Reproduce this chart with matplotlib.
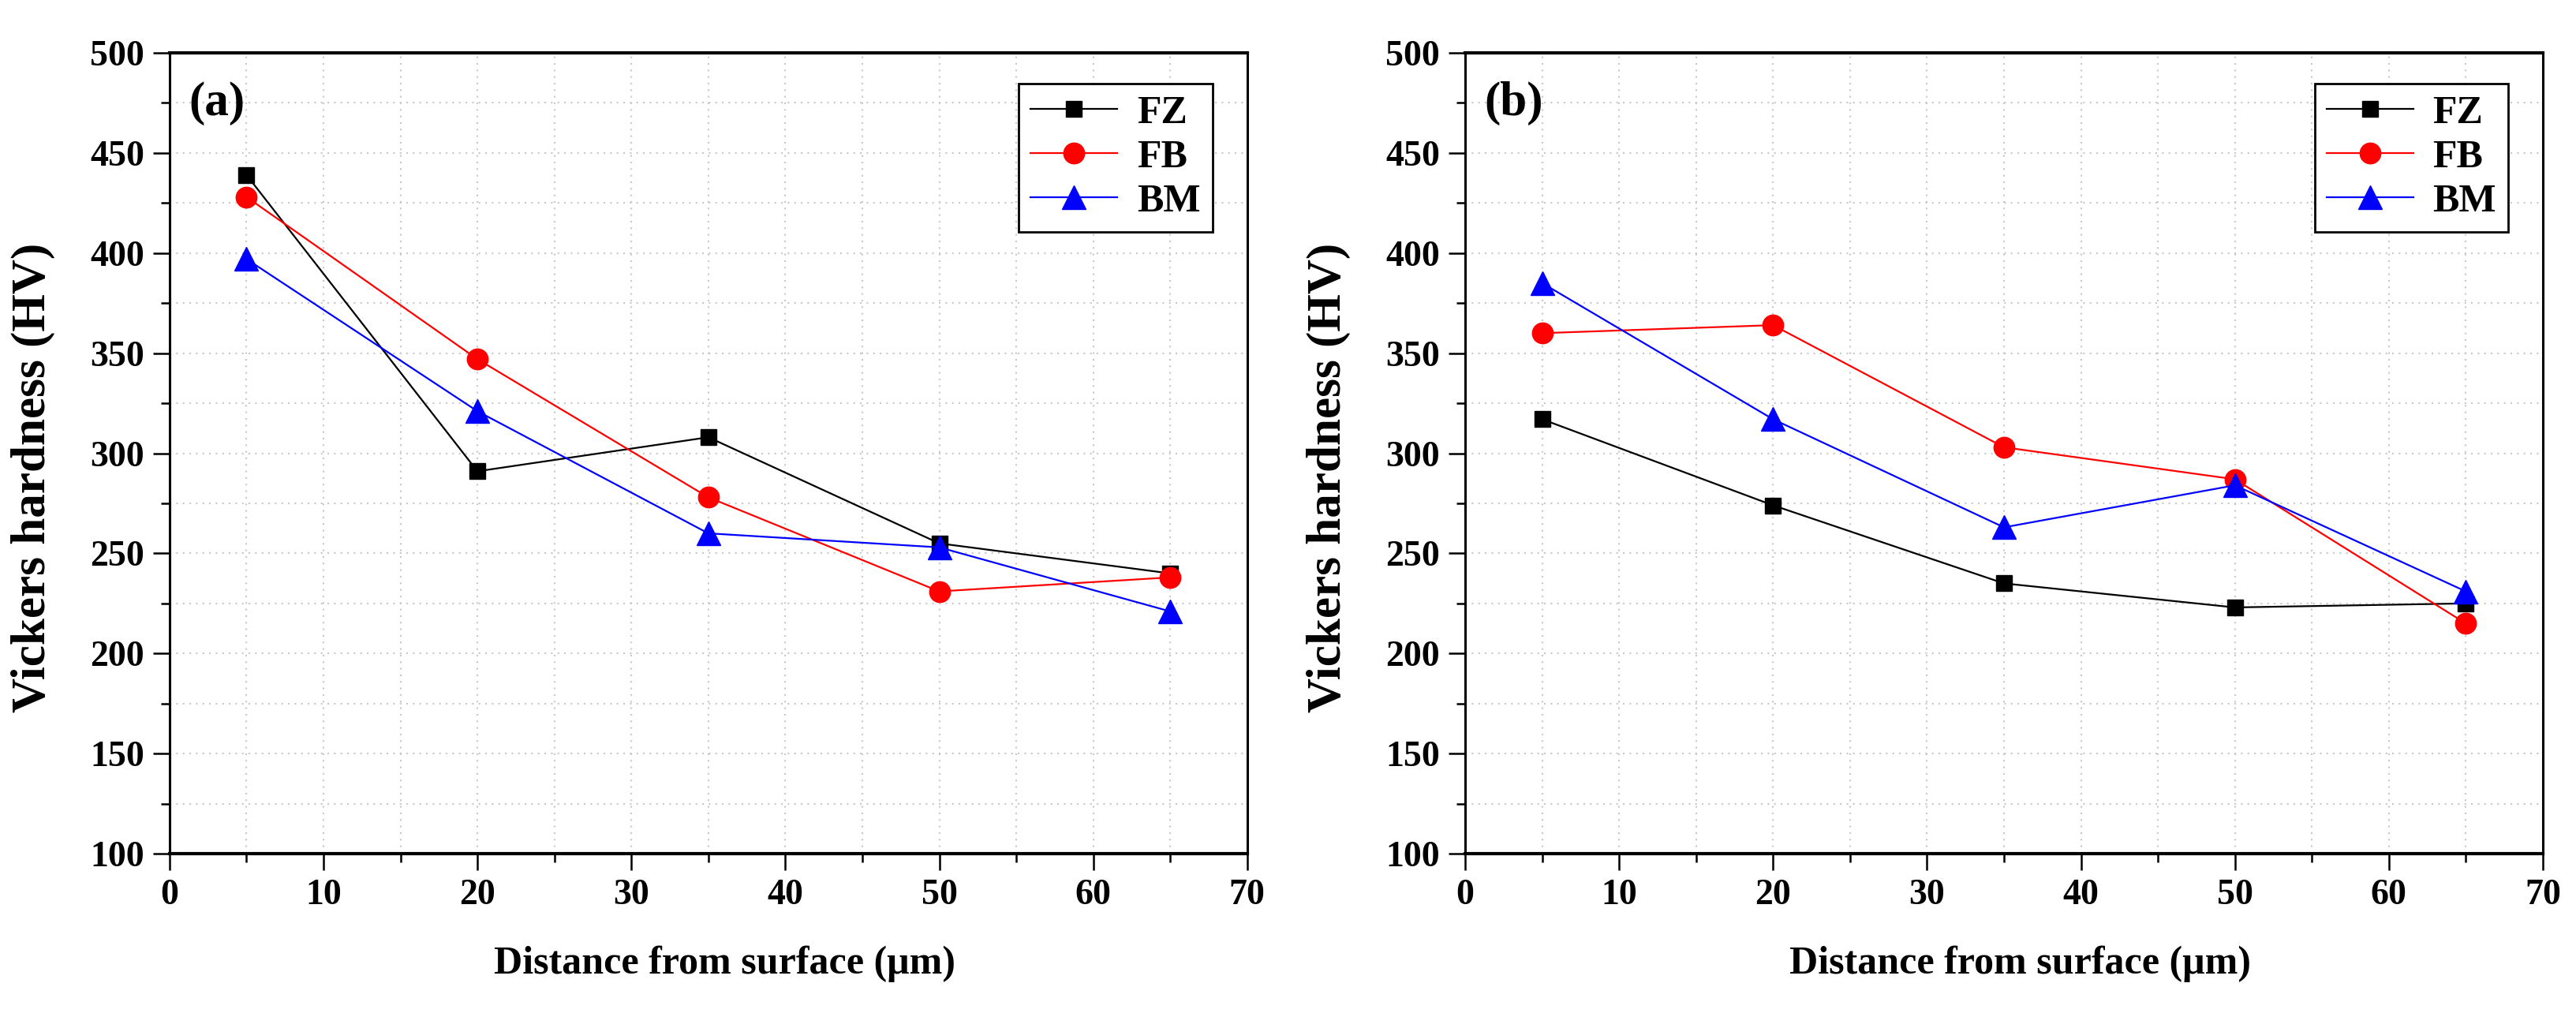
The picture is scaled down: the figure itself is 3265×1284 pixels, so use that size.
import matplotlib
matplotlib.use("Agg")
import matplotlib.pyplot as plt
from matplotlib.ticker import MultipleLocator

plt.rcParams['font.family'] = ['Liberation Serif', 'DejaVu Serif']
plt.rcParams['font.weight'] = 'bold'

# distance from surface (um)
distance = [5, 20, 35, 50, 65]

# panel (a)
fz_a = [439, 291, 308, 255, 240]
fb_a = [428, 347, 278, 231, 238]
bm_a = [397, 321, 260, 253, 221]

# panel (b)
fz_b = [317, 274, 235, 223, 225]
fb_b = [360, 364, 303, 287, 215]
bm_b = [385, 317, 263, 284, 231]

series_names = ["FZ", "FB", "BM"]
panel_tags = ["(a)", "(b)"]


def draw_panel(ax, fz, fb, bm, tag):
    ax.plot(distance, fz, color="black", lw=1.6, marker="s", ms=15, label=series_names[0])
    ax.plot(distance, fb, color="red", lw=1.6, marker="o", ms=19, label=series_names[1])
    ax.plot(distance, bm, color="blue", lw=1.6, marker="^", ms=22, label=series_names[2])

    ax.set_xlim(0, 70)
    ax.set_ylim(100, 500)
    ax.xaxis.set_major_locator(MultipleLocator(10))
    ax.xaxis.set_minor_locator(MultipleLocator(5))
    ax.yaxis.set_major_locator(MultipleLocator(50))
    ax.yaxis.set_minor_locator(MultipleLocator(25))

    ax.grid(True, which="both", color="#c8c8c8", ls=(0, (1, 3)), lw=1.5)
    ax.set_axisbelow(True)

    for side in ["top", "bottom"]:
        ax.spines[side].set_linewidth(3)
    for side in ["left", "right"]:
        ax.spines[side].set_linewidth(2.2)

    ax.tick_params(which="major", direction="out", length=15, width=1.8, labelsize=33, pad=8)
    ax.tick_params(which="minor", direction="out", length=8, width=1.8)
    for lab in ax.get_xticklabels() + ax.get_yticklabels():
        lab.set_fontweight("bold")

    ax.set_xlabel("Distance from surface (\u03bcm)", fontsize=36, fontweight="bold")
    ax.set_ylabel("Vickers hardness (HV)", fontsize=44, fontweight="bold")
    ax.xaxis.set_label_coords(0.515, -0.115)
    ax.yaxis.set_label_coords(-0.106, 0.47)

    ax.text(0.018, 0.965, tag, transform=ax.transAxes, fontsize=44,
            fontweight="bold", va="top", ha="left")

    leg = ax.legend(loc="upper right", bbox_to_anchor=(0.968, 0.962), fontsize=36,
                    handlelength=2.2, handletextpad=0.5, labelspacing=0.2,
                    borderpad=0.3, fancybox=False, framealpha=1, borderaxespad=0)
    leg.get_frame().set_edgecolor("black")
    leg.get_frame().set_linewidth(2)


fig = plt.figure(figsize=(32.66, 12.84), dpi=100)
ax_a = fig.add_axes([0.0658, 0.1573, 0.4182, 0.7905])
ax_b = fig.add_axes([0.5686, 0.1573, 0.4182, 0.7905])

draw_panel(ax_a, fz_a, fb_a, bm_a, panel_tags[0])
draw_panel(ax_b, fz_b, fb_b, bm_b, panel_tags[1])

fig.savefig("out.png", dpi=100)
